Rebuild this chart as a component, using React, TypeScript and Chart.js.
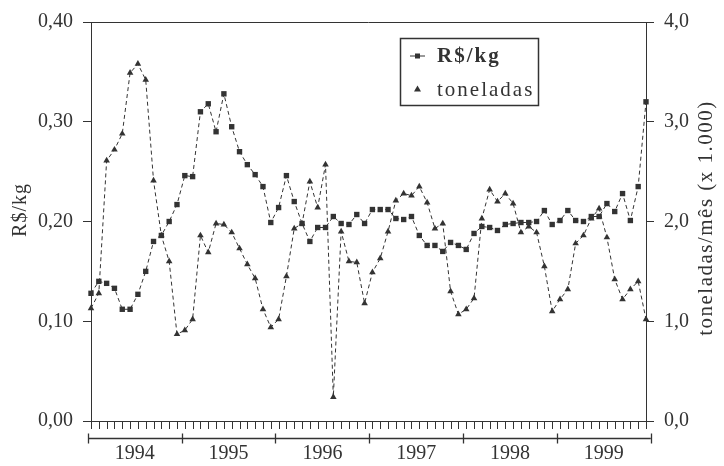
import React, { useEffect, useRef } from "react";
import { Chart, registerables } from "chart.js";

Chart.register(...registerables);

const years = ["1994", "1995", "1996", "1997", "1998", "1999"];
const monthNames = ["jan", "fev", "mar", "abr", "mai", "jun", "jul", "ago", "set", "out", "nov", "dez"];
const months = years.flatMap((y) => monthNames.map((m) => `${m}/${y}`));

// R$/kg (left axis)
const priceRsKg = [
  0.128, 0.140, 0.138, 0.133, 0.112, 0.112, 0.127, 0.150, 0.180, 0.186, 0.200, 0.217,
  0.246, 0.245, 0.310, 0.318, 0.290, 0.328, 0.295, 0.270, 0.257, 0.247, 0.235, 0.199,
  0.214, 0.246, 0.220, 0.198, 0.180, 0.194, 0.194, 0.205, 0.198, 0.197, 0.207, 0.198,
  0.212, 0.212, 0.212, 0.203, 0.202, 0.205, 0.186, 0.176, 0.176, 0.170, 0.179, 0.176,
  0.172, 0.188, 0.195, 0.194, 0.191, 0.197, 0.198, 0.199, 0.199, 0.200, 0.211, 0.197,
  0.201, 0.211, 0.201, 0.200, 0.205, 0.205, 0.218, 0.210, 0.228, 0.201, 0.235, 0.320,
];

// toneladas/mês (x 1.000) (right axis)
const toneladas = [
  1.13, 1.28, 2.61, 2.72, 2.88, 3.49, 3.58, 3.42, 2.41, 1.86, 1.60, 0.87,
  0.91, 1.02, 1.86, 1.69, 1.98, 1.97, 1.89, 1.73, 1.57, 1.43, 1.12, 0.94,
  1.02, 1.45, 1.93, 1.98, 2.40, 2.14, 2.57, 0.24, 1.90, 1.60, 1.59, 1.18,
  1.49, 1.63, 1.90, 2.21, 2.28, 2.26, 2.35, 2.19, 1.93, 1.98, 1.30, 1.07,
  1.12, 1.23, 2.03, 2.32, 2.20, 2.28, 2.18, 1.89, 1.95, 1.89, 1.55, 1.10,
  1.22, 1.32, 1.78, 1.86, 2.03, 2.13, 1.84, 1.42, 1.22, 1.32, 1.40, 1.02,
];

const leftMin = 0;
const leftMax = 0.4;
const leftStep = 0.1;
const rightMin = 0;
const rightMax = 4;
const rightStep = 1;

const leftTitle = "R$/kg";
const rightTitle = "toneladas/mês (x 1.000)";
const seriesNames = ["R$/kg", "toneladas"];

const INK = "#333333";
const FONT = "Liberation Serif";

const decorPlugin = {
  id: "decor",
  afterDraw(chart: any) {
    const { ctx, chartArea: ca, scales } = chart;
    const x = scales.x;
    ctx.save();
    ctx.strokeStyle = INK;
    ctx.fillStyle = INK;
    ctx.lineWidth = 1;

    // top frame line
    ctx.beginPath();
    ctx.moveTo(ca.left, Math.round(ca.top) + 0.5);
    ctx.lineTo(ca.right, Math.round(ca.top) + 0.5);
    ctx.stroke();

    // monthly tick marks under the axis
    ctx.beginPath();
    for (let i = 0; i < months.length; i++) {
      const px = Math.round(x.getPixelForValue(i)) + 0.5;
      ctx.moveTo(px, ca.bottom);
      ctx.lineTo(px, ca.bottom + 8);
    }
    ctx.stroke();

    // year bracket
    const p0 = x.getPixelForValue(0);
    const stepPx = x.getPixelForValue(1) - p0;
    const bx = (k: number) => p0 + (12 * k - 0.4) * stepPx;
    const by = Math.round(ca.bottom + 17) + 0.5;
    ctx.lineWidth = 1.3;
    ctx.beginPath();
    ctx.moveTo(bx(0), by);
    ctx.lineTo(bx(years.length), by);
    for (let k = 0; k <= years.length; k++) {
      const px = Math.round(bx(k)) + 0.5;
      ctx.moveTo(px, by - 5);
      ctx.lineTo(px, by + 5);
    }
    ctx.stroke();

    ctx.font = `20px "${FONT}"`;
    ctx.textAlign = "center";
    ctx.textBaseline = "middle";
    years.forEach((y, k) => {
      ctx.fillText(y, (bx(k) + bx(k + 1)) / 2, ca.bottom + 33);
    });

    // axis titles (both read bottom-to-top)
    ctx.font = `20px "${FONT}"`;
    ctx.save();
    ctx.translate(21, 210);
    ctx.rotate(-Math.PI / 2);
    (ctx as any).letterSpacing = "1px";
    ctx.fillText(leftTitle, 0, 0);
    ctx.restore();
    ctx.save();
    ctx.font = `21px "${FONT}"`;
    ctx.translate(706, 218);
    ctx.rotate(-Math.PI / 2);
    (ctx as any).letterSpacing = "1.5px";
    ctx.fillText(rightTitle, 0, 0);
    ctx.restore();

    // legend box
    const lx = 400, ly = 38, lw = 138, lh = 67;
    ctx.lineWidth = 1.5;
    ctx.strokeRect(lx + 0.5, ly + 0.5, lw, lh);
    ctx.lineWidth = 1;
    const r1 = ly + 18, r2 = ly + 51;
    ctx.beginPath();
    ctx.moveTo(lx + 10, r1);
    ctx.lineTo(lx + 25, r1);
    ctx.stroke();
    ctx.fillRect(lx + 15, r1 - 2.5, 5, 5);
    ctx.beginPath();
    ctx.moveTo(lx + 17.5, r2 - 3.5);
    ctx.lineTo(lx + 21, r2 + 2.5);
    ctx.lineTo(lx + 14, r2 + 2.5);
    ctx.closePath();
    ctx.fill();
    ctx.textAlign = "left";
    ctx.save();
    (ctx as any).letterSpacing = "2px";
    ctx.font = `bold 21px "${FONT}"`;
    ctx.fillText(seriesNames[0], lx + 37, r1 + 1);
    ctx.font = `21px "${FONT}"`;
    ctx.fillText(seriesNames[1], lx + 37, r2 + 1);
    ctx.restore();

    ctx.restore();
  },
};

export default function App() {
  const ref = useRef<HTMLCanvasElement | null>(null);

  useEffect(() => {
    if (!ref.current) return;
    const chart = new Chart(ref.current, {
      type: "line",
      data: {
        labels: months,
        datasets: [
          {
            label: seriesNames[0],
            data: priceRsKg,
            yAxisID: "y",
            borderColor: INK,
            backgroundColor: INK,
            borderWidth: 1,
            borderDash: [4, 3],
            pointStyle: "rect",
            pointRadius: 3.8,
            pointBorderWidth: 0,
            tension: 0,
          },
          {
            label: seriesNames[1],
            data: toneladas,
            yAxisID: "y1",
            borderColor: INK,
            backgroundColor: INK,
            borderWidth: 1,
            borderDash: [4, 3],
            pointStyle: "triangle",
            pointRadius: 3.8,
            pointBorderWidth: 0,
            tension: 0,
          },
        ],
      },
      options: {
        responsive: false,
        animation: false,
        devicePixelRatio: 1,
        layout: { padding: { top: 18, left: 0, right: 0, bottom: 0 } },
        plugins: { legend: { display: false }, tooltip: { enabled: false } },
        scales: {
          x: {
            type: "category",
            offset: false,
            ticks: { display: false, autoSkip: false },
            grid: { display: false },
            border: { display: true, color: INK, width: 1 },
            afterFit: (s: any) => {
              s.height = 45;
            },
          },
          y: {
            position: "left",
            min: leftMin,
            max: leftMax,
            ticks: {
              stepSize: leftStep,
              color: INK,
              padding: 10,
              font: { family: FONT, size: 20 },
              callback: (v: any) => Number(v).toFixed(2).replace(".", ","),
            },
            grid: { display: true, drawOnChartArea: false, drawTicks: true, tickLength: 8, color: INK },
            border: { display: true, color: INK, width: 1 },
            afterFit: (s: any) => {
              s.width = 91;
            },
          },
          y1: {
            position: "right",
            min: rightMin,
            max: rightMax,
            ticks: {
              stepSize: rightStep,
              color: INK,
              padding: 10,
              font: { family: FONT, size: 20 },
              callback: (v: any) => Number(v).toFixed(1).replace(".", ","),
            },
            grid: { display: true, drawOnChartArea: false, drawTicks: true, tickLength: 8, color: INK },
            border: { display: true, color: INK, width: 1 },
            afterFit: (s: any) => {
              s.width = 78;
            },
          },
        },
      },
      plugins: [decorPlugin],
    } as any);
    return () => chart.destroy();
  }, []);

  return (
    <div style={{ position: "fixed", left: 0, top: 0, width: 724, height: 466, background: "#fff" }}>
      <canvas ref={ref} width={724} height={466} style={{ width: 724, height: 466, display: "block" }} />
    </div>
  );
}
